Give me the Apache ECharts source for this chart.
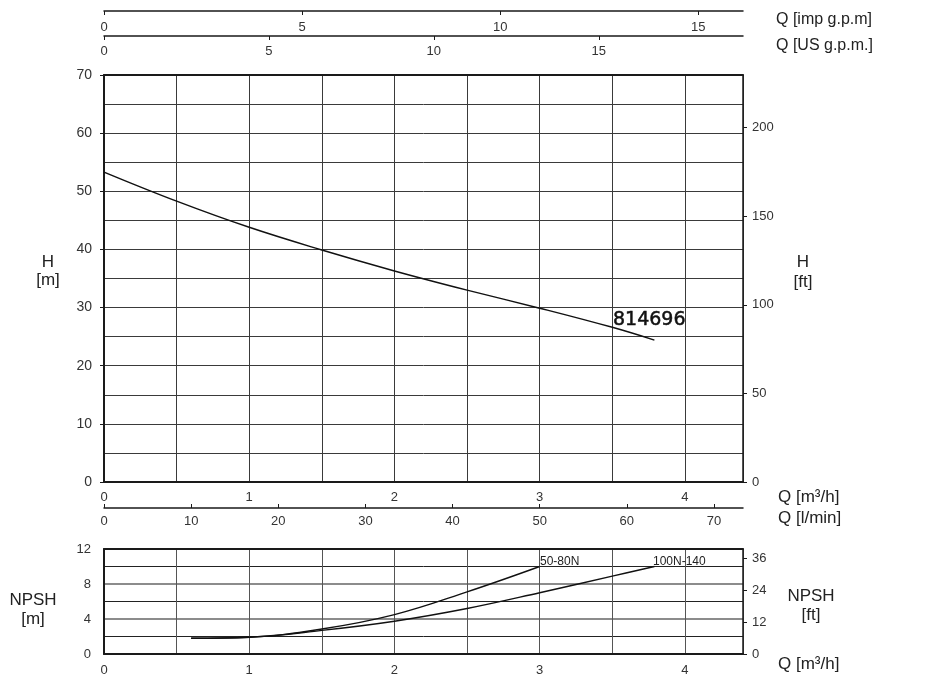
<!DOCTYPE html>
<html><head><meta charset="utf-8">
<script src="https://cdn.jsdelivr.net/npm/echarts@6/dist/echarts.min.js"></script>
<style>html,body{margin:0;padding:0;background:#fff}#c{width:928px;height:688px}</style>
</head><body><div id="c"></div>
<script>
// ---- data ----
const qHead = [0, 0.5, 1.0, 1.5, 2.0, 2.5, 3.0, 3.5, 3.79];
const hHead = [53.3, 48.3, 43.8, 39.9, 36.3, 33.0, 29.9, 26.6, 24.4];
const qNpsh5080 = [0.6, 1.0, 1.5, 2.0, 2.5, 3.0];
const npsh5080 = [1.8, 1.92, 2.85, 4.5, 7.1, 10.0];
const qNpsh100140 = [0.6, 1.0, 1.5, 2.0, 2.5, 3.0, 3.5, 3.79];
const npsh100140 = [1.8, 1.92, 2.7, 3.75, 5.2, 7.0, 8.9, 10.0];
const curveName = '814696';
const npshNames = ['50-80N', '100N-140'];
const qMax = 4.4;      // m3/h
const hMax = 70;       // m
const npshMax = 12;    // m
const M_TO_FT = 3.28084;
const M3H_TO_IMPGPM = 3.66614;
const M3H_TO_USGPM = 4.40287;
const M3H_TO_LMIN = 16.6667;

const pairs = (xs, ys) => xs.map((x, i) => [x, ys[i]]);
const FONT = '"Liberation Sans", Arial, sans-serif';
const DARK = '#1a1a1a';
const GRIDC = '#3a3a3a';
const lbl = (extra) => Object.assign({color: '#333', fontFamily: FONT, fontSize: 13}, extra || {});
const intOnly = v => (Math.abs(v - Math.round(v)) < 1e-6 ? String(Math.round(v)) : '');
const mult = (m) => v => (Math.abs(v / m - Math.round(v / m)) < 1e-6 ? String(Math.round(v)) : '');

const chart = echarts.init(document.getElementById('c'), null, {renderer: 'canvas'});

function txt(text, x, y, size, align, extra) {
  return {type: 'text', x: x, y: y, silent: true, z: 100,
    style: Object.assign({text: text, font: size + 'px ' + FONT, fill: '#222',
      align: align || 'left', verticalAlign: 'middle'}, extra || {})};
}

const option = {
  animation: false,
  backgroundColor: '#fff',
  grid: [
    {left: 104, top: 75, width: 639, height: 407},
    {left: 104, top: 549, width: 639, height: 105}
  ],
  xAxis: [
    // 0: main m3/h
    {gridIndex: 0, type: 'value', position: 'bottom', min: 0, max: qMax, interval: 0.5,
      axisLine: {lineStyle: {color: DARK, width: 2}}, axisTick: {show: false},
      axisLabel: lbl({formatter: intOnly, margin: 9, showMaxLabel: false}),
      splitLine: {show: true, lineStyle: {color: GRIDC, width: 1}}},
    // 1: l/min
    {gridIndex: 0, type: 'value', position: 'bottom', offset: 26, min: 0, max: qMax * M3H_TO_LMIN, interval: 10,
      axisLine: {onZero: false, lineStyle: {color: DARK, width: 1.5}},
      axisTick: {inside: true, length: 4, lineStyle: {color: DARK}},
      axisLabel: lbl({margin: 7, showMaxLabel: false, formatter: mult(10)}), splitLine: {show: false}},
    // 2: US gpm
    {gridIndex: 0, type: 'value', position: 'top', offset: 39, min: 0, max: qMax * M3H_TO_USGPM, interval: 5,
      axisLine: {onZero: false, lineStyle: {color: DARK, width: 1.5}},
      axisTick: {inside: true, length: 4, lineStyle: {color: DARK}},
      axisLabel: lbl({inside: true, margin: 9, showMaxLabel: false, formatter: mult(5)}), splitLine: {show: false}},
    // 3: imp gpm
    {gridIndex: 0, type: 'value', position: 'top', offset: 64, min: 0, max: qMax * M3H_TO_IMPGPM, interval: 5,
      axisLine: {onZero: false, lineStyle: {color: DARK, width: 1.5}},
      axisTick: {inside: true, length: 4, lineStyle: {color: DARK}},
      axisLabel: lbl({inside: true, margin: 10, showMaxLabel: false, formatter: mult(5)}), splitLine: {show: false}},
    // 4: top border
    {gridIndex: 0, type: 'value', position: 'top', offset: 0, min: 0, max: qMax,
      axisLine: {onZero: false, lineStyle: {color: DARK, width: 2}},
      axisTick: {show: false}, axisLabel: {show: false}, splitLine: {show: false}},
    // 5: NPSH m3/h
    {gridIndex: 1, type: 'value', position: 'bottom', min: 0, max: qMax, interval: 0.5,
      axisLine: {onZero: false, lineStyle: {color: DARK, width: 2}}, axisTick: {show: false},
      axisLabel: lbl({formatter: intOnly, margin: 10, showMaxLabel: false}),
      splitLine: {show: true, lineStyle: {color: '#555', width: 1}}},
    // 6: NPSH top border
    {gridIndex: 1, type: 'value', position: 'top', min: 0, max: qMax,
      axisLine: {onZero: false, lineStyle: {color: DARK, width: 2}},
      axisTick: {show: false}, axisLabel: {show: false}, splitLine: {show: false}}
  ],
  yAxis: [
    // 0: H m
    {gridIndex: 0, type: 'value', position: 'left', min: 0, max: hMax, interval: 10,
      axisLine: {onZero: false, lineStyle: {color: DARK, width: 2}},
      axisTick: {show: true, length: 4, lineStyle: {color: DARK}},
      axisLabel: lbl({fontSize: 14, margin: 12}),
      splitLine: {show: true, lineStyle: {color: GRIDC, width: 1}},
      minorTick: {show: false, splitNumber: 2},
      minorSplitLine: {show: true, lineStyle: {color: GRIDC, width: 1}}},
    // 1: H ft
    {gridIndex: 0, type: 'value', position: 'right', min: 0, max: hMax * M_TO_FT, interval: 50,
      axisLine: {onZero: false, lineStyle: {color: DARK, width: 1.5}},
      axisTick: {show: true, length: 4, lineStyle: {color: DARK}},
      axisLabel: lbl({fontSize: 13, margin: 9, showMaxLabel: false, formatter: mult(50)}),
      splitLine: {show: false}},
    // 2: NPSH m
    {gridIndex: 1, type: 'value', position: 'left', min: 0, max: npshMax, interval: 2,
      axisLine: {onZero: false, lineStyle: {color: DARK, width: 2}},
      axisTick: {show: false},
      axisLabel: lbl({fontSize: 13, margin: 13, formatter: mult(4)}),
      splitLine: {show: true, lineStyle: {color: ['#222', '#222', 'rgba(0,0,0,0)', '#222', 'rgba(0,0,0,0)', '#222', '#222'], width: 1}}},
    // 3: NPSH ft
    {gridIndex: 1, type: 'value', position: 'right', min: 0, max: npshMax * M_TO_FT, interval: 12,
      axisLine: {onZero: false, lineStyle: {color: DARK, width: 1.5}},
      axisTick: {show: true, length: 4, lineStyle: {color: DARK}},
      axisLabel: lbl({fontSize: 13, margin: 9, showMaxLabel: false, formatter: mult(12)}),
      splitLine: {show: false}},
    // 4: NPSH grey lines (4 and 8 m)
    {gridIndex: 1, type: 'value', position: 'left', min: 0, max: npshMax, interval: 4,
      axisLine: {show: false}, axisTick: {show: false}, axisLabel: {show: false},
      splitLine: {show: true, lineStyle: {color: ['rgba(0,0,0,0)', '#8c8c8c', '#8c8c8c', 'rgba(0,0,0,0)'], width: 2}}}
  ],
  series: [
    {name: curveName, type: 'line', xAxisIndex: 0, yAxisIndex: 0, data: pairs(qHead, hHead),
      smooth: 0.4, showSymbol: false, z: 10,
      lineStyle: {color: '#111', width: 1.5}},
    {name: npshNames[0], type: 'line', xAxisIndex: 5, yAxisIndex: 2, data: pairs(qNpsh5080, npsh5080),
      smooth: 0.4, showSymbol: false, z: 10,
      lineStyle: {color: '#111', width: 1.4}},
    {name: npshNames[1], type: 'line', xAxisIndex: 5, yAxisIndex: 2, data: pairs(qNpsh100140, npsh100140),
      smooth: 0.4, showSymbol: false, z: 10,
      lineStyle: {color: '#111', width: 1.4}}
  ],
  graphic: [
    txt('Q [imp g.p.m]', 776, 20, 16),
    txt('Q [US g.p.m.]', 776, 46, 16),
    txt('H', 48, 262, 17, 'center'),
    txt('[m]', 48, 280, 17, 'center'),
    txt('H', 803, 262, 17, 'center'),
    txt('[ft]', 803, 282, 17, 'center'),
    txt('Q [m³/h]', 778, 497, 17),
    txt('Q [l/min]', 778, 518, 17),
    txt(curveName, 613, 320, 19, 'left', {font: '19px "DejaVu Sans", sans-serif', fill: '#111', stroke: '#111', lineWidth: 0.5}),
    txt(npshNames[0], 540, 562, 12),
    txt(npshNames[1], 653, 562, 12),
    txt('NPSH', 33, 600, 17, 'center'),
    txt('[m]', 33, 619, 17, 'center'),
    txt('NPSH', 811, 596, 17, 'center'),
    txt('[ft]', 811, 615, 17, 'center'),
    txt('Q [m³/h]', 778, 664, 17)
  ]
};
chart.setOption(option);
</script>
</body></html>
